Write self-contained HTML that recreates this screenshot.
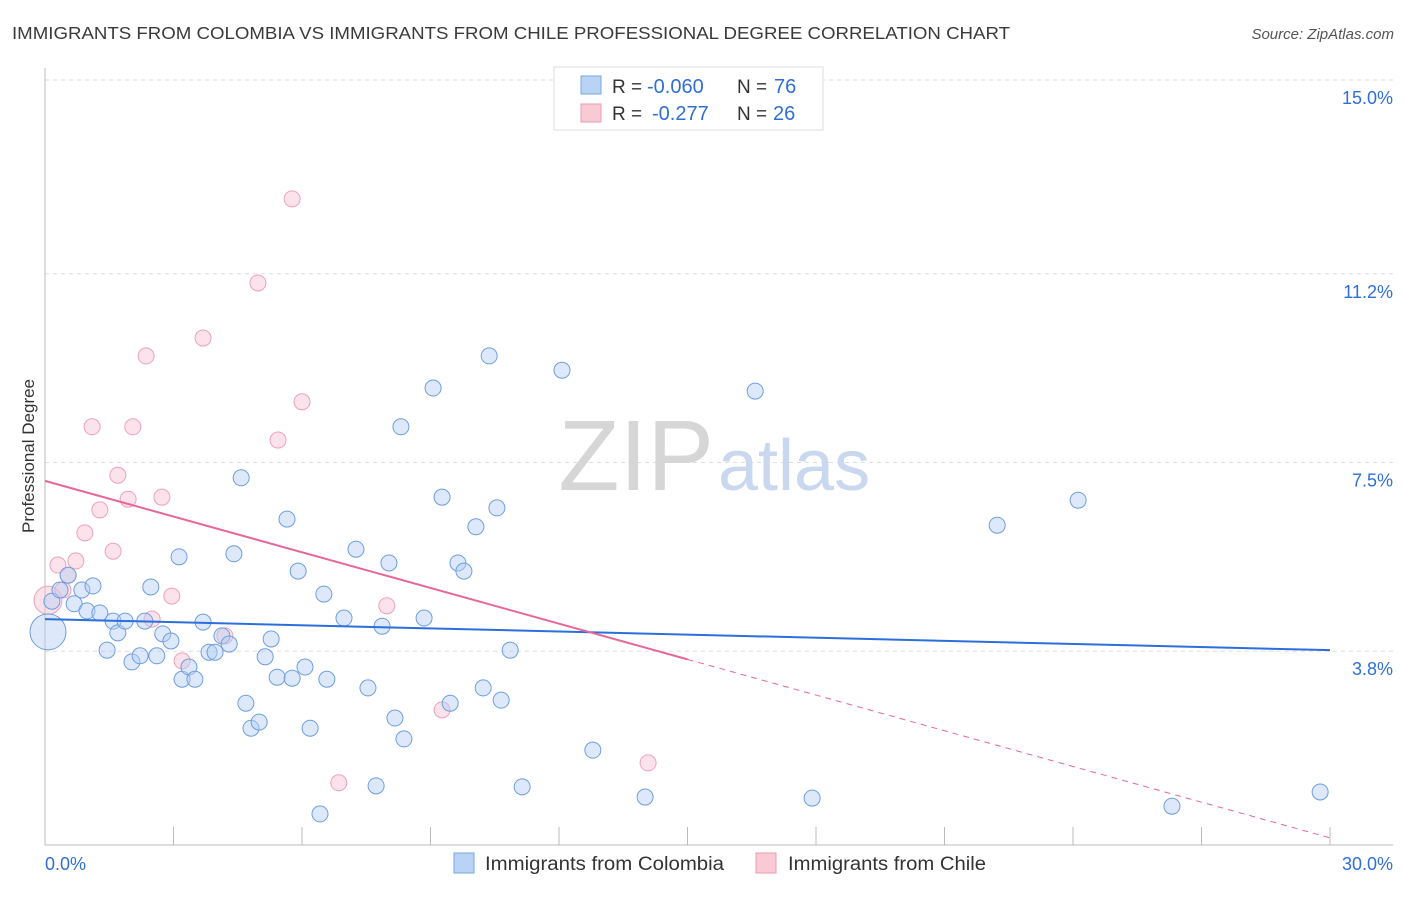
<!DOCTYPE html>
<html><head><meta charset="utf-8"><style>
body{margin:0;background:#fff;font-family:"Liberation Sans",sans-serif;}
svg text{font-family:"Liberation Sans",sans-serif;}
</style></head><body>
<svg id="chart" width="1406" height="892">
<text x="12" y="39" font-size="17.5" fill="#3a3a3a" textLength="998" lengthAdjust="spacingAndGlyphs">IMMIGRANTS FROM COLOMBIA VS IMMIGRANTS FROM CHILE PROFESSIONAL DEGREE CORRELATION CHART</text>
<text x="1394" y="39" font-size="15" fill="#555" text-anchor="end" font-style="italic">Source: ZipAtlas.com</text>
<g id="grid"></g>
<text x="714" y="490" font-size="100" fill="#d6d6d6" text-anchor="end" font-family="Liberation Serif">ZIP</text>
<text x="718" y="490" font-size="72" fill="#c9d8ee">atlas</text>
<g id="marks"></g>
<text x="0" y="0" transform="translate(34,456) rotate(-90)" font-size="17" fill="#333" text-anchor="middle">Professional Degree</text>
<g>
<rect x="554" y="67" width="269" height="63" fill="#fff" stroke="#ddd"/>
<rect x="581" y="76" width="20" height="18" fill="#b9d3f5" stroke="#7aa7e0"/>
<rect x="581" y="104" width="20" height="18" fill="#f9c9d6" stroke="#ee9ab3"/>
<text x="612" y="93" font-size="19" fill="#333">R =</text>
<text x="647" y="93" font-size="20" fill="#2f6fd6">-0.060</text>
<text x="737" y="93" font-size="19" fill="#333">N =</text>
<text x="774" y="93" font-size="20" fill="#2f6fd6">76</text>
<text x="612" y="120" font-size="19" fill="#333">R =</text>
<text x="652" y="120" font-size="20" fill="#2f6fd6">-0.277</text>
<text x="737" y="120" font-size="19" fill="#333">N =</text>
<text x="773" y="120" font-size="20" fill="#2f6fd6">26</text>
</g>
<g>
<rect x="454" y="853" width="20" height="20" fill="#b9d3f5" stroke="#7aa7e0"/>
<text x="485" y="870" font-size="19" fill="#333" textLength="239" lengthAdjust="spacingAndGlyphs">Immigrants from Colombia</text>
<rect x="756" y="853" width="20" height="20" fill="#f9c9d6" stroke="#ee9ab3"/>
<text x="788" y="870" font-size="19" fill="#333" textLength="198" lengthAdjust="spacingAndGlyphs">Immigrants from Chile</text>
</g>
</svg>
<script>
const xTicks=[0,30];
const yTicks=[3.8,7.5,11.2,15.0];
const yTickLabels=["3.8%","7.5%","11.2%","15.0%"];
const colX=[0.07,0.16,0.35,0.54,0.68,0.86,0.98,1.12,1.28,1.45,1.59,1.70,1.87,2.03,2.22,2.33,2.47,2.61,2.75,2.94,3.13,3.20,3.36,3.50,3.69,3.83,3.97,4.13,4.30,4.41,4.58,4.69,4.81,5.00,5.14,5.28,5.42,5.65,5.77,5.91,6.07,6.19,6.42,6.51,6.58,6.98,7.26,7.54,7.73,7.87,8.03,8.17,8.31,8.38,8.85,9.06,9.27,9.46,9.64,9.78,10.06,10.23,10.37,10.55,10.65,10.86,11.14,12.07,12.79,14.01,16.58,17.91,22.23,24.12,26.31,29.77];
const colY=[4.18,4.78,5.00,5.29,4.73,5.00,4.59,5.08,4.55,3.82,4.39,4.16,4.39,3.59,3.71,4.39,5.06,3.71,4.14,4.00,5.65,3.25,3.49,3.25,4.37,3.78,3.78,4.10,3.94,5.71,7.20,2.78,2.29,2.41,3.69,4.04,3.29,6.39,3.27,5.37,3.49,2.29,0.61,4.92,3.25,4.45,5.80,3.08,1.16,4.29,5.53,2.49,8.20,2.08,4.45,8.96,6.82,2.78,5.53,5.37,6.24,3.08,9.59,6.61,2.84,3.82,1.14,9.31,1.86,0.94,8.90,0.92,6.27,6.76,0.76,1.04];
const chiX=[0.07,0.30,0.42,0.54,0.72,0.93,1.10,1.28,1.59,1.70,1.94,2.05,2.36,2.50,2.73,2.96,3.20,3.69,4.20,4.97,5.44,5.77,6.00,6.86,7.98,9.27,14.08];
const chiY=[4.80,5.49,5.00,5.29,5.57,6.12,8.20,6.57,5.76,7.25,6.78,8.20,9.59,4.43,6.82,4.88,3.61,9.94,4.10,11.02,7.94,12.67,8.69,1.22,4.69,2.65,1.61];
const colTrend=[4.43,3.82];
const chiTrend=[7.14,0.14];
const chiSolidEnd=15;
const NS="http://www.w3.org/2000/svg";
const X=v=>45+v*(1285/30);
const Y=v=>845-v*51;
function mk(tag,a,parent){const e=document.createElementNS(NS,tag);for(const k in a)e.setAttribute(k,a[k]);parent.appendChild(e);return e;}
const grid=document.getElementById('grid'),marks=document.getElementById('marks');
yTicks.forEach((t,i)=>{
 const l=mk('line',{x1:45,x2:1393,y1:Y(t),y2:Y(t),stroke:'#ddd','stroke-dasharray':'4,4'},grid);
 
 
 const tx=mk('text',{x:1393,y:Y(t)+24,'font-size':18,fill:'#2f6fd6','text-anchor':'end'},grid);
 tx.textContent=yTickLabels[i];
 
 
});
const ax=mk('line',{x1:45,x2:1393,y1:845,y2:845,stroke:'#bbb'},grid);


const ay=mk('line',{x1:45,x2:45,y1:68,y2:845,stroke:'#bbb'},grid);


for(let i=0;i<=10;i++){const t=mk('line',{x1:X(i*3),x2:X(i*3),y1:827,y2:845,stroke:'#bbb'},grid);
 
 }
xTicks.forEach((t,i)=>{const tx=mk('text',{x:i==0?45:1393,y:870,'font-size':18,fill:'#2f6fd6','text-anchor':i==0?'start':'end'},grid);
 tx.textContent=t.toFixed(1)+'%';
 
 });
chiX.forEach((v,i)=>{const c=mk('circle',{cx:X(v),cy:Y(chiY[i]),r:i==0?14:8,fill:'rgba(249,190,208,0.45)',stroke:'#eea2ba','stroke-width':1},marks);
 
 });
colX.forEach((v,i)=>{const c=mk('circle',{cx:X(v),cy:Y(colY[i]),r:i==0?18:8,fill:'rgba(180,206,243,0.45)',stroke:'#6f9ee0','stroke-width':1},marks);
 
 });
const bl=mk('line',{x1:X(0),y1:Y(colTrend[0]),x2:X(30),y2:Y(colTrend[1]),stroke:'#2a6fdb','stroke-width':2},marks);


const mid=chiTrend[0]+(chiTrend[1]-chiTrend[0])*chiSolidEnd/30;
const pl=mk('line',{x1:X(0),y1:Y(chiTrend[0]),x2:X(chiSolidEnd),y2:Y(mid),stroke:'#e8679a','stroke-width':2},marks);


const pd=mk('line',{x1:X(chiSolidEnd),y1:Y(mid),x2:X(30),y2:Y(chiTrend[1]),stroke:'#e8679a','stroke-width':1,'stroke-dasharray':'6,5'},marks);


</script>
</body></html>
